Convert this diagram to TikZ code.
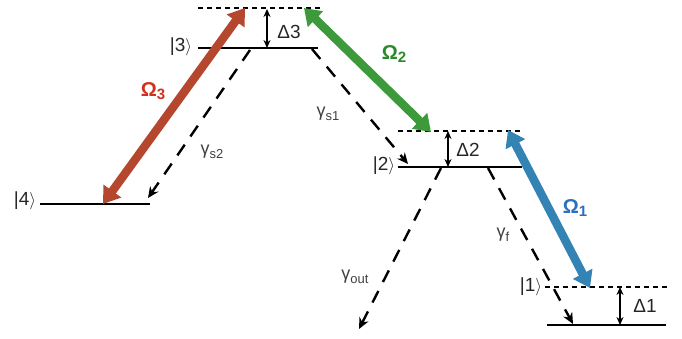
\documentclass[tikz,border=0pt]{standalone}
\usepackage{fontspec}
\setmainfont{Liberation Sans}
\usetikzlibrary{arrows.meta}
\definecolor{omred}{HTML}{B5472F}
\definecolor{omredt}{HTML}{D0301E}
\definecolor{omgreen}{HTML}{3C9A3A}
\definecolor{omgreent}{HTML}{2A8A2A}
\definecolor{omblue}{HTML}{3383B5}
\definecolor{ombluet}{HTML}{2A6FC0}
\newcommand{\gsub}[1]{\raisebox{-3.5pt}{\fontsize{13}{13}\selectfont #1}}
\newcommand{\osub}[1]{\raisebox{-3pt}{\fontsize{15}{15}\selectfont\bfseries #1}}
\tikzset{
  level/.style={line width=1.8pt},
  virt/.style={line width=2.2pt, dash pattern=on 5pt off 4pt},
  decay/.style={line width=2.4pt, dash pattern=on 13pt off 10pt, -{Stealth[length=11pt,width=10pt]}},
  detune/.style={line width=1.4pt, {Stealth[length=8pt,width=7pt]}-{Stealth[length=8pt,width=7pt]}},
  pump/.style={line width=8.5pt, {Triangle[length=16pt,width=21pt]}-{Triangle[length=16pt,width=21pt]}},
  lbl/.style={font=\fontsize{19}{21}\selectfont, text=black!85, inner sep=0pt},
  glbl/.style={font=\fontsize{18}{20}\selectfont, text=black!75, inner sep=0pt},
  omlbl/.style={font=\bfseries\fontsize{20}{22}\selectfont, inner sep=0pt}
}
\begin{document}
\begin{tikzpicture}[x=1pt,y=-1pt]
\useasboundingbox (0,0) rectangle (682,339);
% coordinates
\coordinate (l4a) at (40,204); \coordinate (l4b) at (150,204);
\coordinate (l3a) at (198,48); \coordinate (l3b) at (318,48);
\coordinate (v3a) at (198,8); \coordinate (v3b) at (320,8);
\coordinate (l2a) at (398,167); \coordinate (l2b) at (522,167);
\coordinate (v2a) at (398,131); \coordinate (v2b) at (522,131);
\coordinate (l1a) at (547,325); \coordinate (l1b) at (666,325);
\coordinate (v1a) at (545,287); \coordinate (v1b) at (667,287);
% levels
\draw[level] (l4a) -- (l4b);
\draw[level] (l3a) -- (l3b);
\draw[level] (l2a) -- (l2b);
\draw[level] (l1a) -- (l1b);
\draw[virt] (v3a) -- (v3b);
\draw[virt] (v2a) -- (v2b);
\draw[virt] (v1a) -- (v1b);
% kets
\node[lbl] (k4) at (25,201) {\textbar4$\rangle$};
\node[lbl] (k3) at (181,47) {\textbar3$\rangle$};
\node[lbl] (k2) at (384,166) {\textbar2$\rangle$};
\node[lbl] (k1) at (531,287) {\textbar1$\rangle$};
% detunings
\coordinate (d3t) at (267,9); \coordinate (d3b) at (267,48);
\coordinate (d2t) at (448,131); \coordinate (d2b) at (448,167);
\coordinate (d1t) at (620,287); \coordinate (d1b) at (620,325);
\draw[detune] (d3t) -- (d3b);
\draw[detune] (d2t) -- (d2b);
\draw[detune] (d1t) -- (d1b);
\node[lbl] (D3) at (289,32) {Δ3};
\node[lbl] (D2) at (468,150) {Δ2};
\node[lbl] (D1) at (645,306) {Δ1};
% decays
\coordinate (s2a) at (250,50); \coordinate (s2b) at (148,198);
\coordinate (s1a) at (312,49); \coordinate (s1b) at (408,164);
\coordinate (oa) at (441,168); \coordinate (ob) at (359,329);
\coordinate (fa) at (488,168); \coordinate (fb) at (573,324);
\draw[decay] (s2a) -- (s2b);
\draw[decay] (s1a) -- (s1b);
\draw[decay] (oa) -- (ob);
\draw[decay] (fa) -- (fb);
\node[glbl] (gs2) at (212,152) {γ\gsub{s2}};
\node[glbl] (gs1) at (328,114) {γ\gsub{s1}};
\node[glbl] (go) at (355,277) {γ\gsub{out}};
\node[glbl] (gf) at (503,235) {γ\gsub{f}};
% pumps
\coordinate (p3a) at (103,204); \coordinate (p3b) at (245,8);
\coordinate (p2a) at (304,8); \coordinate (p2b) at (431,132);
\coordinate (p1a) at (508,130); \coordinate (p1b) at (590,288);
\draw[pump, omred] (p3a) -- (p3b);
\draw[pump, omgreen] (p2a) -- (p2b);
\draw[pump, omblue] (p1a) -- (p1b);
\node[omlbl, text=omredt] (O3) at (153,91) {Ω\osub{3}};
\node[omlbl, text=omgreent] (O2) at (394,54) {Ω\osub{2}};
\node[omlbl, text=ombluet] (O1) at (575,208) {Ω\osub{1}};
\end{tikzpicture}
\end{document}
